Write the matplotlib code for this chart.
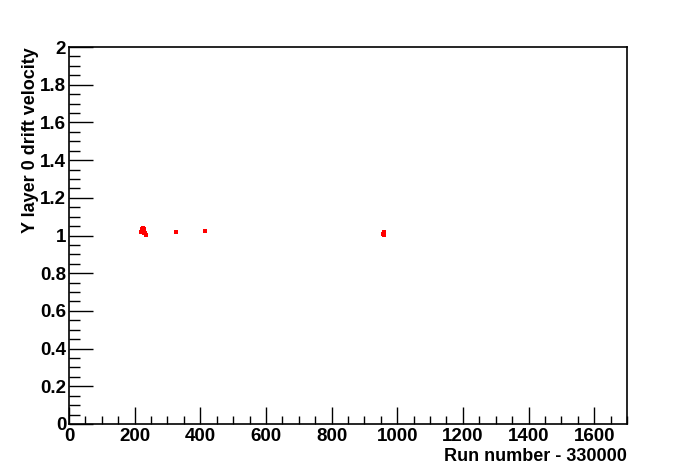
import matplotlib
matplotlib.use("Agg")
import matplotlib.pyplot as plt
from matplotlib.ticker import MultipleLocator

plt.rcParams['font.family'] = ['Liberation Sans', 'DejaVu Sans']
plt.rcParams['font.weight'] = 'bold'

# run number offset from 330000, drift velocity
run = [219, 221, 222, 223, 224, 225, 226, 227, 228, 229, 230, 232, 234,
       326, 414, 958, 959, 960, 961]
vel = [1.020, 1.030, 1.025, 1.035, 1.040, 1.028, 1.018, 1.032, 1.022, 1.037, 1.015, 1.012, 1.005,
       1.019, 1.024, 1.008, 1.015, 1.020, 1.003]

fig = plt.figure(figsize=(6.96, 4.72), dpi=100)
ax = fig.add_axes([0.0991, 0.1017, 0.8018, 0.7987])
ax.plot(run, vel, 's', color='red', markersize=2.4, markeredgewidth=0)

ax.set_xlim(0, 1700)
ax.set_ylim(0, 2)
ax.xaxis.set_major_locator(MultipleLocator(200))
ax.xaxis.set_minor_locator(MultipleLocator(50))
ax.yaxis.set_major_locator(MultipleLocator(0.2))
ax.yaxis.set_minor_locator(MultipleLocator(0.05))
ax.yaxis.set_major_formatter(plt.FuncFormatter(lambda v, p: '%g' % round(v, 2)))
ax.tick_params(which='both', direction='in', top=False, right=False, labelsize=13.5, width=1)
ax.tick_params(axis='x', which='major', length=12, pad=3)
ax.tick_params(axis='x', which='minor', length=6)
ax.tick_params(axis='y', which='major', length=17, pad=2)
ax.tick_params(axis='y', which='minor', length=8)
for s in ax.spines.values():
    s.set_linewidth(1.2)

ax.set_xlabel('Run number - 330000', fontsize=13, fontweight='bold', loc='right', labelpad=2)
ax.set_ylabel('Y layer 0 drift velocity', fontsize=13, fontweight='bold', loc='top', labelpad=1)

fig.savefig('out.png', dpi=100)
